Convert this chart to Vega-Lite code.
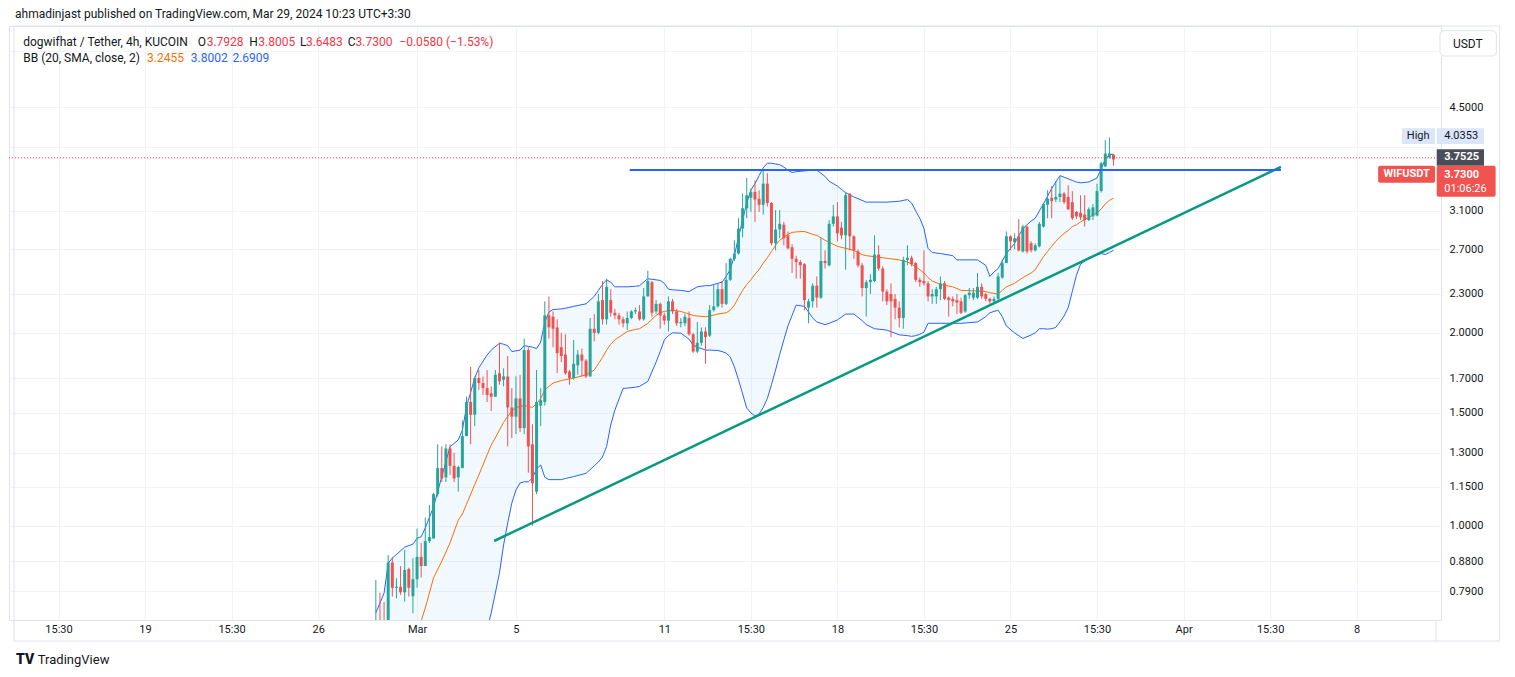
{
  "$schema": "https://vega.github.io/schema/vega-lite/v6.json",
  "width": 1432,
  "height": 594,
  "autosize": {"type": "none"},
  "padding": {"left": 9, "top": 26, "right": 74, "bottom": 57},
  "background": "#ffffff",
  "config": {
    "font": "Roboto",
    "view": {"stroke": "#e0e3eb"},
    "axis": {"labelFont": "Roboto", "labelFontSize": 11, "labelColor": "#131722", "gridColor": "#f0f3fa", "gridWidth": 1}
  },
  "data": {"values": [{}]},
  "datasets": {
    "candles": [
      {"i": -10, "o": 0.68, "h": 0.823, "l": 0.66, "c": 0.705},
      {"i": -9, "o": 0.70, "h": 0.786, "l": 0.67, "c": 0.69},
      {"i": -8, "o": 0.70, "h": 0.76, "l": 0.66, "c": 0.69},
      {"i": -7, "o": 0.69, "h": 0.90, "l": 0.68, "c": 0.876},
      {"i": -6, "o": 0.876, "h": 0.894, "l": 0.775, "c": 0.80},
      {"i": -5, "o": 0.80, "h": 0.828, "l": 0.77, "c": 0.803},
      {"i": -4, "o": 0.803, "h": 0.865, "l": 0.78, "c": 0.787},
      {"i": -3, "o": 0.787, "h": 0.917, "l": 0.761, "c": 0.853},
      {"i": -2, "o": 0.856, "h": 0.86, "l": 0.775, "c": 0.80},
      {"i": -1, "o": 0.776, "h": 0.89, "l": 0.73, "c": 0.825},
      {"i": 0, "o": 0.825, "h": 0.99, "l": 0.80, "c": 0.894},
      {"i": 1, "o": 0.894, "h": 0.94, "l": 0.83, "c": 0.865},
      {"i": 2, "o": 0.865, "h": 1.03, "l": 0.865, "c": 0.946},
      {"i": 3, "o": 0.946, "h": 1.077, "l": 0.94, "c": 0.96},
      {"i": 4, "o": 0.955, "h": 1.126, "l": 0.955, "c": 1.12},
      {"i": 5, "o": 1.12, "h": 1.34, "l": 1.11, "c": 1.23},
      {"i": 6, "o": 1.23, "h": 1.33, "l": 1.17, "c": 1.185},
      {"i": 7, "o": 1.19, "h": 1.34, "l": 1.17, "c": 1.32},
      {"i": 8, "o": 1.32, "h": 1.34, "l": 1.20, "c": 1.24},
      {"i": 9, "o": 1.24, "h": 1.30, "l": 1.17, "c": 1.185},
      {"i": 10, "o": 1.19, "h": 1.24, "l": 1.13, "c": 1.235},
      {"i": 11, "o": 1.23, "h": 1.46, "l": 1.23, "c": 1.38},
      {"i": 12, "o": 1.38, "h": 1.59, "l": 1.38, "c": 1.56},
      {"i": 13, "o": 1.56, "h": 1.77, "l": 1.34, "c": 1.49},
      {"i": 14, "o": 1.49, "h": 1.71, "l": 1.43, "c": 1.70},
      {"i": 15, "o": 1.70, "h": 1.75, "l": 1.63, "c": 1.67},
      {"i": 16, "o": 1.67, "h": 1.71, "l": 1.60, "c": 1.64},
      {"i": 17, "o": 1.64, "h": 1.75, "l": 1.56, "c": 1.60},
      {"i": 18, "o": 1.61, "h": 1.65, "l": 1.51, "c": 1.59},
      {"i": 19, "o": 1.59, "h": 1.75, "l": 1.59, "c": 1.72},
      {"i": 20, "o": 1.73, "h": 1.93, "l": 1.66, "c": 1.68},
      {"i": 21, "o": 1.69, "h": 1.76, "l": 1.65, "c": 1.71},
      {"i": 22, "o": 1.71, "h": 1.84, "l": 1.33, "c": 1.53},
      {"i": 23, "o": 1.53, "h": 1.64, "l": 1.37, "c": 1.48},
      {"i": 24, "o": 1.48, "h": 1.71, "l": 1.39, "c": 1.58},
      {"i": 25, "o": 1.58, "h": 1.72, "l": 1.40, "c": 1.42},
      {"i": 26, "o": 1.42, "h": 1.96, "l": 1.39, "c": 1.88},
      {"i": 27, "o": 1.88, "h": 1.90, "l": 1.21, "c": 1.33},
      {"i": 28, "o": 1.34, "h": 1.44, "l": 1.00, "c": 1.165},
      {"i": 29, "o": 1.13, "h": 1.75, "l": 1.12, "c": 1.56},
      {"i": 30, "o": 1.54, "h": 1.64, "l": 1.43, "c": 1.57},
      {"i": 31, "o": 1.56, "h": 2.24, "l": 1.54, "c": 2.13},
      {"i": 32, "o": 2.13, "h": 2.28, "l": 1.96, "c": 2.04},
      {"i": 33, "o": 2.12, "h": 2.16, "l": 1.90, "c": 2.03},
      {"i": 34, "o": 2.04, "h": 2.10, "l": 1.73, "c": 1.86},
      {"i": 35, "o": 1.90, "h": 2.0, "l": 1.80, "c": 1.84},
      {"i": 36, "o": 1.85, "h": 1.99, "l": 1.72, "c": 1.73},
      {"i": 37, "o": 1.74, "h": 1.75, "l": 1.66, "c": 1.70},
      {"i": 38, "o": 1.70, "h": 1.95, "l": 1.69, "c": 1.79},
      {"i": 39, "o": 1.78, "h": 1.88, "l": 1.72, "c": 1.85},
      {"i": 40, "o": 1.85, "h": 1.89, "l": 1.71, "c": 1.81},
      {"i": 41, "o": 1.81, "h": 1.82, "l": 1.70, "c": 1.71},
      {"i": 42, "o": 1.71, "h": 2.11, "l": 1.71, "c": 2.03},
      {"i": 43, "o": 2.03, "h": 2.14, "l": 1.94, "c": 2.0},
      {"i": 44, "o": 2.0, "h": 2.30, "l": 1.99, "c": 2.24},
      {"i": 45, "o": 2.25, "h": 2.41, "l": 2.06, "c": 2.10},
      {"i": 46, "o": 2.10, "h": 2.43, "l": 2.06, "c": 2.36},
      {"i": 47, "o": 2.25, "h": 2.34, "l": 2.12, "c": 2.15},
      {"i": 48, "o": 2.15, "h": 2.18, "l": 2.10, "c": 2.13},
      {"i": 49, "o": 2.13, "h": 2.15, "l": 2.06, "c": 2.10},
      {"i": 50, "o": 2.10, "h": 2.12, "l": 2.04, "c": 2.07},
      {"i": 51, "o": 2.07, "h": 2.16, "l": 2.02, "c": 2.11},
      {"i": 52, "o": 2.11, "h": 2.17, "l": 2.10, "c": 2.16},
      {"i": 53, "o": 2.16, "h": 2.19, "l": 2.14, "c": 2.17},
      {"i": 54, "o": 2.16, "h": 2.21, "l": 2.09, "c": 2.10},
      {"i": 55, "o": 2.10, "h": 2.35, "l": 2.09, "c": 2.28},
      {"i": 56, "o": 2.28, "h": 2.50, "l": 2.28, "c": 2.41},
      {"i": 57, "o": 2.40, "h": 2.41, "l": 2.12, "c": 2.15},
      {"i": 58, "o": 2.16, "h": 2.25, "l": 2.14, "c": 2.22},
      {"i": 59, "o": 2.22, "h": 2.23, "l": 2.03, "c": 2.13},
      {"i": 60, "o": 2.13, "h": 2.15, "l": 2.06, "c": 2.09},
      {"i": 61, "o": 2.09, "h": 2.28, "l": 2.01, "c": 2.24},
      {"i": 62, "o": 2.24, "h": 2.26, "l": 2.14, "c": 2.16},
      {"i": 63, "o": 2.16, "h": 2.18, "l": 2.05, "c": 2.07},
      {"i": 64, "o": 2.07, "h": 2.11, "l": 2.04, "c": 2.08},
      {"i": 65, "o": 2.07, "h": 2.14, "l": 2.05, "c": 2.12},
      {"i": 66, "o": 2.11, "h": 2.16, "l": 1.98, "c": 1.99},
      {"i": 67, "o": 1.99, "h": 2.0, "l": 1.86, "c": 1.87},
      {"i": 68, "o": 1.87, "h": 2.08, "l": 1.86, "c": 1.93},
      {"i": 69, "o": 1.93, "h": 2.04, "l": 1.91, "c": 2.01},
      {"i": 70, "o": 2.01, "h": 2.04, "l": 1.79, "c": 1.97},
      {"i": 71, "o": 1.98, "h": 2.21, "l": 1.97, "c": 2.17},
      {"i": 72, "o": 2.17, "h": 2.38, "l": 2.16, "c": 2.20},
      {"i": 73, "o": 2.20, "h": 2.39, "l": 2.19, "c": 2.34},
      {"i": 74, "o": 2.34, "h": 2.41, "l": 2.19, "c": 2.22},
      {"i": 75, "o": 2.22, "h": 2.57, "l": 2.21, "c": 2.42},
      {"i": 76, "o": 2.42, "h": 2.62, "l": 2.41, "c": 2.61},
      {"i": 77, "o": 2.61, "h": 2.79, "l": 2.59, "c": 2.66},
      {"i": 78, "o": 2.66, "h": 3.02, "l": 2.65, "c": 2.91},
      {"i": 79, "o": 2.91, "h": 3.30, "l": 2.82, "c": 3.13},
      {"i": 80, "o": 3.13, "h": 3.49, "l": 3.02, "c": 3.28},
      {"i": 81, "o": 3.25, "h": 3.36, "l": 3.09, "c": 3.32},
      {"i": 82, "o": 3.32, "h": 3.46, "l": 2.98, "c": 3.23},
      {"i": 83, "o": 3.24, "h": 3.34, "l": 3.09, "c": 3.17},
      {"i": 84, "o": 3.17, "h": 3.59, "l": 3.06, "c": 3.42},
      {"i": 85, "o": 3.42, "h": 3.55, "l": 3.15, "c": 3.19},
      {"i": 86, "o": 3.19, "h": 3.20, "l": 2.74, "c": 2.76},
      {"i": 87, "o": 2.76, "h": 3.11, "l": 2.69, "c": 2.90},
      {"i": 88, "o": 2.90, "h": 3.11, "l": 2.81, "c": 2.96},
      {"i": 89, "o": 2.95, "h": 2.98, "l": 2.74, "c": 2.81},
      {"i": 90, "o": 2.84, "h": 2.88, "l": 2.70, "c": 2.71},
      {"i": 91, "o": 2.72, "h": 2.75, "l": 2.48, "c": 2.61},
      {"i": 92, "o": 2.61, "h": 2.64, "l": 2.43, "c": 2.58},
      {"i": 93, "o": 2.58, "h": 2.60, "l": 2.43, "c": 2.55},
      {"i": 94, "o": 2.56, "h": 2.57, "l": 2.17, "c": 2.25},
      {"i": 95, "o": 2.19, "h": 2.26, "l": 2.07, "c": 2.24},
      {"i": 96, "o": 2.24, "h": 2.39, "l": 2.19, "c": 2.37},
      {"i": 97, "o": 2.37, "h": 2.45, "l": 2.19, "c": 2.27},
      {"i": 98, "o": 2.27, "h": 2.82, "l": 2.26, "c": 2.59},
      {"i": 99, "o": 2.59, "h": 2.69, "l": 2.52, "c": 2.57},
      {"i": 100, "o": 2.55, "h": 3.0, "l": 2.54, "c": 2.96},
      {"i": 101, "o": 2.96, "h": 3.17, "l": 2.93, "c": 3.04},
      {"i": 102, "o": 3.04, "h": 3.20, "l": 2.78, "c": 2.86},
      {"i": 103, "o": 2.92, "h": 2.98, "l": 2.80, "c": 2.84},
      {"i": 104, "o": 2.84, "h": 3.32, "l": 2.51, "c": 3.28},
      {"i": 105, "o": 3.30, "h": 3.30, "l": 2.69, "c": 2.83},
      {"i": 106, "o": 2.83, "h": 2.84, "l": 2.61, "c": 2.69},
      {"i": 107, "o": 2.68, "h": 2.70, "l": 2.53, "c": 2.55},
      {"i": 108, "o": 2.55, "h": 2.57, "l": 2.28, "c": 2.35},
      {"i": 109, "o": 2.35, "h": 2.42, "l": 2.12, "c": 2.40},
      {"i": 110, "o": 2.40, "h": 2.47, "l": 2.30, "c": 2.42},
      {"i": 111, "o": 2.41, "h": 2.84, "l": 2.40, "c": 2.65},
      {"i": 112, "o": 2.65, "h": 2.74, "l": 2.50, "c": 2.52},
      {"i": 113, "o": 2.52, "h": 2.54, "l": 2.24, "c": 2.32},
      {"i": 114, "o": 2.32, "h": 2.34, "l": 2.21, "c": 2.24},
      {"i": 115, "o": 2.30, "h": 2.39, "l": 1.97, "c": 2.24},
      {"i": 116, "o": 2.26, "h": 2.30, "l": 2.10, "c": 2.19},
      {"i": 117, "o": 2.19, "h": 2.24, "l": 2.04, "c": 2.11},
      {"i": 118, "o": 2.11, "h": 2.63, "l": 2.03, "c": 2.60},
      {"i": 119, "o": 2.60, "h": 2.74, "l": 2.55, "c": 2.62},
      {"i": 120, "o": 2.62, "h": 2.64, "l": 2.54, "c": 2.56},
      {"i": 121, "o": 2.57, "h": 2.58, "l": 2.40, "c": 2.42},
      {"i": 122, "o": 2.42, "h": 2.44, "l": 2.36, "c": 2.40},
      {"i": 123, "o": 2.41, "h": 2.69, "l": 2.37, "c": 2.39},
      {"i": 124, "o": 2.39, "h": 2.41, "l": 2.24, "c": 2.28},
      {"i": 125, "o": 2.28, "h": 2.34, "l": 2.22, "c": 2.30},
      {"i": 126, "o": 2.28, "h": 2.36, "l": 2.22, "c": 2.34},
      {"i": 127, "o": 2.34, "h": 2.45, "l": 2.25, "c": 2.39},
      {"i": 128, "o": 2.39, "h": 2.41, "l": 2.25, "c": 2.26},
      {"i": 129, "o": 2.27, "h": 2.28, "l": 2.12, "c": 2.25},
      {"i": 130, "o": 2.26, "h": 2.28, "l": 2.20, "c": 2.24},
      {"i": 131, "o": 2.25, "h": 2.30, "l": 2.14, "c": 2.23},
      {"i": 132, "o": 2.24, "h": 2.27, "l": 2.14, "c": 2.15},
      {"i": 133, "o": 2.16, "h": 2.30, "l": 2.15, "c": 2.29},
      {"i": 134, "o": 2.29, "h": 2.35, "l": 2.26, "c": 2.31},
      {"i": 135, "o": 2.27, "h": 2.35, "l": 2.25, "c": 2.31},
      {"i": 136, "o": 2.27, "h": 2.48, "l": 2.26, "c": 2.36},
      {"i": 137, "o": 2.36, "h": 2.39, "l": 2.26, "c": 2.28},
      {"i": 138, "o": 2.30, "h": 2.31, "l": 2.24, "c": 2.26},
      {"i": 139, "o": 2.26, "h": 2.27, "l": 2.22, "c": 2.24},
      {"i": 140, "o": 2.24, "h": 2.28, "l": 2.23, "c": 2.26},
      {"i": 141, "o": 2.26, "h": 2.48, "l": 2.25, "c": 2.45},
      {"i": 142, "o": 2.44, "h": 2.60, "l": 2.43, "c": 2.57},
      {"i": 143, "o": 2.57, "h": 2.88, "l": 2.57, "c": 2.83},
      {"i": 144, "o": 2.83, "h": 2.84, "l": 2.69, "c": 2.78},
      {"i": 145, "o": 2.77, "h": 2.86, "l": 2.70, "c": 2.81},
      {"i": 146, "o": 2.83, "h": 3.01, "l": 2.68, "c": 2.69},
      {"i": 147, "o": 2.68, "h": 2.95, "l": 2.67, "c": 2.93},
      {"i": 148, "o": 2.93, "h": 2.94, "l": 2.66, "c": 2.68},
      {"i": 149, "o": 2.76, "h": 2.78, "l": 2.67, "c": 2.69},
      {"i": 150, "o": 2.69, "h": 2.76, "l": 2.68, "c": 2.74},
      {"i": 151, "o": 2.73, "h": 2.98, "l": 2.72, "c": 2.96},
      {"i": 152, "o": 2.93, "h": 3.19, "l": 2.92, "c": 3.18},
      {"i": 153, "o": 3.17, "h": 3.34, "l": 3.02, "c": 3.24},
      {"i": 154, "o": 3.25, "h": 3.39, "l": 3.02, "c": 3.21},
      {"i": 155, "o": 3.23, "h": 3.45, "l": 3.20, "c": 3.26},
      {"i": 156, "o": 3.26, "h": 3.51, "l": 3.20, "c": 3.30},
      {"i": 157, "o": 3.30, "h": 3.32, "l": 3.18, "c": 3.20},
      {"i": 158, "o": 3.26, "h": 3.40, "l": 3.11, "c": 3.12},
      {"i": 159, "o": 3.20, "h": 3.33, "l": 3.00, "c": 3.02},
      {"i": 160, "o": 3.09, "h": 3.10, "l": 3.01, "c": 3.04},
      {"i": 161, "o": 3.08, "h": 3.28, "l": 3.0, "c": 3.03},
      {"i": 162, "o": 3.06, "h": 3.28, "l": 2.93, "c": 3.0},
      {"i": 163, "o": 3.0, "h": 3.14, "l": 2.99, "c": 3.12},
      {"i": 164, "o": 3.04, "h": 3.18, "l": 3.0, "c": 3.14},
      {"i": 165, "o": 3.05, "h": 3.42, "l": 3.04, "c": 3.33},
      {"i": 166, "o": 3.33, "h": 3.70, "l": 3.31, "c": 3.68},
      {"i": 167, "o": 3.64, "h": 4.0, "l": 3.63, "c": 3.81},
      {"i": 168, "o": 3.76, "h": 4.0353, "l": 3.74, "c": 3.81},
      {"i": 169, "o": 3.7928, "h": 3.8005, "l": 3.6483, "c": 3.73}
    ],
    "bb": [
      {"i": -10, "up": 0.731, "mid": 0.60, "lo": 0.50},
      {"i": -8, "up": 0.785, "mid": 0.61, "lo": 0.50},
      {"i": -7, "up": 0.874, "mid": 0.62, "lo": 0.50},
      {"i": -6, "up": 0.89, "mid": 0.63, "lo": 0.50},
      {"i": -3, "up": 0.926, "mid": 0.66, "lo": 0.51},
      {"i": -1, "up": 0.936, "mid": 0.68, "lo": 0.52},
      {"i": 0, "up": 0.956, "mid": 0.69, "lo": 0.52},
      {"i": 1, "up": 0.961, "mid": 0.71, "lo": 0.53},
      {"i": 2, "up": 0.992, "mid": 0.744, "lo": 0.54},
      {"i": 4, "up": 1.07, "mid": 0.829, "lo": 0.55},
      {"i": 6, "up": 1.193, "mid": 0.88, "lo": 0.56},
      {"i": 8, "up": 1.328, "mid": 0.94, "lo": 0.57},
      {"i": 10, "up": 1.361, "mid": 1.02, "lo": 0.58},
      {"i": 11, "up": 1.41, "mid": 1.043, "lo": 0.59},
      {"i": 12, "up": 1.534, "mid": 1.08, "lo": 0.60},
      {"i": 14, "up": 1.70, "mid": 1.16, "lo": 0.62},
      {"i": 15, "up": 1.764, "mid": 1.20, "lo": 0.64},
      {"i": 17, "up": 1.847, "mid": 1.29, "lo": 0.69},
      {"i": 18, "up": 1.88, "mid": 1.336, "lo": 0.731},
      {"i": 20, "up": 1.927, "mid": 1.41, "lo": 0.844},
      {"i": 21, "up": 1.92, "mid": 1.45, "lo": 0.933},
      {"i": 22, "up": 1.91, "mid": 1.48, "lo": 1.01},
      {"i": 23, "up": 1.87, "mid": 1.51, "lo": 1.085},
      {"i": 24, "up": 1.875, "mid": 1.53, "lo": 1.137},
      {"i": 25, "up": 1.88, "mid": 1.535, "lo": 1.166},
      {"i": 26, "up": 1.91, "mid": 1.54, "lo": 1.171},
      {"i": 27, "up": 1.905, "mid": 1.535, "lo": 1.171},
      {"i": 28, "up": 1.90, "mid": 1.53, "lo": 1.187},
      {"i": 29, "up": 1.89, "mid": 1.55, "lo": 1.226},
      {"i": 30, "up": 1.935, "mid": 1.58, "lo": 1.244},
      {"i": 31, "up": 2.08, "mid": 1.63, "lo": 1.19},
      {"i": 32, "up": 2.155, "mid": 1.65, "lo": 1.18},
      {"i": 33, "up": 2.175, "mid": 1.67, "lo": 1.18},
      {"i": 35, "up": 2.18, "mid": 1.685, "lo": 1.18},
      {"i": 36, "up": 2.185, "mid": 1.69, "lo": 1.185},
      {"i": 38, "up": 2.20, "mid": 1.70, "lo": 1.193},
      {"i": 41, "up": 2.22, "mid": 1.72, "lo": 1.207},
      {"i": 43, "up": 2.28, "mid": 1.75, "lo": 1.24},
      {"i": 44, "up": 2.33, "mid": 1.79, "lo": 1.257},
      {"i": 45, "up": 2.38, "mid": 1.83, "lo": 1.28},
      {"i": 46, "up": 2.42, "mid": 1.88, "lo": 1.33},
      {"i": 47, "up": 2.40, "mid": 1.92, "lo": 1.436},
      {"i": 48, "up": 2.36, "mid": 1.95, "lo": 1.515},
      {"i": 50, "up": 2.36, "mid": 1.99, "lo": 1.638},
      {"i": 51, "up": 2.36, "mid": 2.01, "lo": 1.64},
      {"i": 53, "up": 2.365, "mid": 2.025, "lo": 1.645},
      {"i": 54, "up": 2.37, "mid": 2.03, "lo": 1.65},
      {"i": 56, "up": 2.43, "mid": 2.07, "lo": 1.68},
      {"i": 58, "up": 2.42, "mid": 2.13, "lo": 1.80},
      {"i": 59, "up": 2.415, "mid": 2.15, "lo": 1.87},
      {"i": 60, "up": 2.39, "mid": 2.16, "lo": 1.95},
      {"i": 61, "up": 2.34, "mid": 2.165, "lo": 1.98},
      {"i": 62, "up": 2.335, "mid": 2.17, "lo": 2.0},
      {"i": 64, "up": 2.33, "mid": 2.16, "lo": 1.998},
      {"i": 66, "up": 2.32, "mid": 2.14, "lo": 1.955},
      {"i": 67, "up": 2.34, "mid": 2.13, "lo": 1.915},
      {"i": 68, "up": 2.36, "mid": 2.125, "lo": 1.90},
      {"i": 70, "up": 2.37, "mid": 2.12, "lo": 1.88},
      {"i": 71, "up": 2.37, "mid": 2.125, "lo": 1.88},
      {"i": 73, "up": 2.39, "mid": 2.14, "lo": 1.877},
      {"i": 74, "up": 2.40, "mid": 2.145, "lo": 1.87},
      {"i": 75, "up": 2.45, "mid": 2.15, "lo": 1.86},
      {"i": 76, "up": 2.51, "mid": 2.17, "lo": 1.834},
      {"i": 77, "up": 2.64, "mid": 2.21, "lo": 1.77},
      {"i": 78, "up": 2.82, "mid": 2.27, "lo": 1.69},
      {"i": 79, "up": 3.0, "mid": 2.33, "lo": 1.606},
      {"i": 80, "up": 3.19, "mid": 2.38, "lo": 1.526},
      {"i": 81, "up": 3.34, "mid": 2.42, "lo": 1.50},
      {"i": 82, "up": 3.42, "mid": 2.47, "lo": 1.483},
      {"i": 83, "up": 3.52, "mid": 2.51, "lo": 1.494},
      {"i": 84, "up": 3.62, "mid": 2.57, "lo": 1.53},
      {"i": 85, "up": 3.68, "mid": 2.62, "lo": 1.58},
      {"i": 86, "up": 3.68, "mid": 2.68, "lo": 1.66},
      {"i": 87, "up": 3.67, "mid": 2.74, "lo": 1.75},
      {"i": 88, "up": 3.66, "mid": 2.79, "lo": 1.85},
      {"i": 89, "up": 3.63, "mid": 2.82, "lo": 1.95},
      {"i": 90, "up": 3.59, "mid": 2.85, "lo": 2.05},
      {"i": 91, "up": 3.56, "mid": 2.87, "lo": 2.13},
      {"i": 92, "up": 3.57, "mid": 2.875, "lo": 2.21},
      {"i": 94, "up": 3.58, "mid": 2.88, "lo": 2.20},
      {"i": 96, "up": 3.59, "mid": 2.85, "lo": 2.11},
      {"i": 97, "up": 3.59, "mid": 2.84, "lo": 2.08},
      {"i": 99, "up": 3.51, "mid": 2.79, "lo": 2.06},
      {"i": 100, "up": 3.45, "mid": 2.77, "lo": 2.07},
      {"i": 102, "up": 3.39, "mid": 2.73, "lo": 2.095},
      {"i": 104, "up": 3.31, "mid": 2.71, "lo": 2.14},
      {"i": 106, "up": 3.26, "mid": 2.69, "lo": 2.14},
      {"i": 108, "up": 3.22, "mid": 2.65, "lo": 2.09},
      {"i": 109, "up": 3.20, "mid": 2.64, "lo": 2.06},
      {"i": 111, "up": 3.20, "mid": 2.63, "lo": 2.03},
      {"i": 114, "up": 3.20, "mid": 2.615, "lo": 2.02},
      {"i": 117, "up": 3.21, "mid": 2.60, "lo": 1.986},
      {"i": 119, "up": 3.23, "mid": 2.58, "lo": 1.98},
      {"i": 120, "up": 3.19, "mid": 2.56, "lo": 1.975},
      {"i": 121, "up": 3.10, "mid": 2.535, "lo": 1.98},
      {"i": 122, "up": 3.02, "mid": 2.51, "lo": 1.99},
      {"i": 123, "up": 2.91, "mid": 2.48, "lo": 2.005},
      {"i": 124, "up": 2.71, "mid": 2.44, "lo": 2.07},
      {"i": 125, "up": 2.67, "mid": 2.41, "lo": 2.07},
      {"i": 127, "up": 2.66, "mid": 2.38, "lo": 2.07},
      {"i": 130, "up": 2.64, "mid": 2.36, "lo": 2.07},
      {"i": 131, "up": 2.60, "mid": 2.345, "lo": 2.07},
      {"i": 132, "up": 2.60, "mid": 2.33, "lo": 2.07},
      {"i": 136, "up": 2.60, "mid": 2.325, "lo": 2.08},
      {"i": 138, "up": 2.55, "mid": 2.32, "lo": 2.12},
      {"i": 139, "up": 2.45, "mid": 2.31, "lo": 2.15},
      {"i": 140, "up": 2.49, "mid": 2.305, "lo": 2.16},
      {"i": 141, "up": 2.52, "mid": 2.30, "lo": 2.17},
      {"i": 142, "up": 2.59, "mid": 2.33, "lo": 2.12},
      {"i": 143, "up": 2.66, "mid": 2.36, "lo": 2.05},
      {"i": 145, "up": 2.76, "mid": 2.39, "lo": 2.0},
      {"i": 147, "up": 2.91, "mid": 2.44, "lo": 1.96},
      {"i": 149, "up": 2.99, "mid": 2.48, "lo": 1.985},
      {"i": 150, "up": 3.02, "mid": 2.51, "lo": 2.0},
      {"i": 151, "up": 3.10, "mid": 2.57, "lo": 2.03},
      {"i": 152, "up": 3.18, "mid": 2.63, "lo": 2.03},
      {"i": 153, "up": 3.27, "mid": 2.68, "lo": 2.027},
      {"i": 154, "up": 3.36, "mid": 2.73, "lo": 2.03},
      {"i": 155, "up": 3.44, "mid": 2.78, "lo": 2.04},
      {"i": 156, "up": 3.52, "mid": 2.82, "lo": 2.08},
      {"i": 157, "up": 3.50, "mid": 2.86, "lo": 2.125},
      {"i": 158, "up": 3.48, "mid": 2.89, "lo": 2.19},
      {"i": 159, "up": 3.46, "mid": 2.93, "lo": 2.32},
      {"i": 160, "up": 3.44, "mid": 2.95, "lo": 2.46},
      {"i": 161, "up": 3.43, "mid": 2.98, "lo": 2.56},
      {"i": 163, "up": 3.44, "mid": 3.03, "lo": 2.62},
      {"i": 165, "up": 3.49, "mid": 3.08, "lo": 2.65},
      {"i": 166, "up": 3.61, "mid": 3.12, "lo": 2.66},
      {"i": 167, "up": 3.73, "mid": 3.18, "lo": 2.65},
      {"i": 168, "up": 3.80, "mid": 3.22, "lo": 2.67},
      {"i": 169, "up": 3.8002, "mid": 3.2455, "lo": 2.6909}
    ]
  },
  "layer": [
    {
      "data": {"name": "bb"},
      "mark": {"type": "area", "clip": true, "color": "#2196f3", "opacity": 0.06},
      "encoding": {
        "x": {
          "field": "i",
          "type": "quantitative",
          "scale": {"domain": [-97.8, 247.25], "nice": false, "zero": false},
          "axis": {
            "orient": "bottom",
            "title": null,
            "values": [-87, -66, -45, -24, 0, 24, 60, 81, 102, 123, 144, 165, 186, 207, 228],
            "labelExpr": "datum.value == 0 ? 'Mar' : datum.value == 186 ? 'Apr' : datum.value == -66 ? '19' : datum.value == -24 ? '26' : datum.value == 24 ? '5' : datum.value == 60 ? '11' : datum.value == 102 ? '18' : datum.value == 144 ? '25' : datum.value == 228 ? '8' : '15:30'",
            "ticks": false,
            "domain": false,
            "grid": true,
            "labelPadding": 3,
            "labelOverlap": false,
            "labelFlush": false
          }
        },
        "y": {
          "field": "lo",
          "type": "quantitative",
          "scale": {"type": "log", "domain": [0.7125, 6.027], "nice": false, "zero": false},
          "axis": {
            "orient": "right",
            "title": null,
            "values": [0.79, 0.88, 1.0, 1.15, 1.3, 1.5, 1.7, 2.0, 2.3, 2.7, 3.1, 3.9, 4.5, 5.5],
            "labelExpr": "datum.value == 3.9 || datum.value == 5.5 ? '' : format(datum.value, '.4f')",
            "ticks": false,
            "domain": false,
            "grid": true,
            "labelPadding": 8,
            "labelAlign": "left",
            "labelOverlap": false,
            "labelFlush": false
          }
        },
        "y2": {"field": "up"}
      }
    },
    {
      "data": {"name": "bb"},
      "mark": {"type": "line", "clip": true, "color": "#2962ff", "strokeWidth": 1},
      "encoding": {"x": {"field": "i", "type": "quantitative"}, "y": {"field": "up", "type": "quantitative"}}
    },
    {
      "data": {"name": "bb"},
      "mark": {"type": "line", "clip": true, "color": "#2962ff", "strokeWidth": 1},
      "encoding": {"x": {"field": "i", "type": "quantitative"}, "y": {"field": "lo", "type": "quantitative"}}
    },
    {
      "data": {"name": "bb"},
      "mark": {"type": "line", "clip": true, "color": "#ff6d00", "strokeWidth": 1},
      "encoding": {"x": {"field": "i", "type": "quantitative"}, "y": {"field": "mid", "type": "quantitative"}}
    },
    {
      "data": {"name": "candles"},
      "mark": {"type": "rule", "clip": true, "strokeWidth": 1},
      "encoding": {
        "x": {"field": "i", "type": "quantitative"},
        "y": {"field": "l", "type": "quantitative"},
        "y2": {"field": "h"},
        "color": {"condition": {"test": "datum.c >= datum.o", "value": "#26a69a"}, "value": "#ef5350"}
      }
    },
    {
      "data": {"name": "candles"},
      "mark": {"type": "bar", "clip": true, "width": 3},
      "encoding": {
        "x": {"field": "i", "type": "quantitative"},
        "y": {"field": "o", "type": "quantitative"},
        "y2": {"field": "c"},
        "color": {"condition": {"test": "datum.c >= datum.o", "value": "#26a69a"}, "value": "#ef5350"}
      }
    },
    {
      "mark": {"type": "rule", "color": "#089981", "strokeWidth": 2.5},
      "encoding": {"x": {"datum": 18.71}, "y": {"datum": 0.9465}, "x2": {"datum": 209.63}, "y2": {"datum": 3.631}}
    },
    {
      "mark": {"type": "rule", "color": "#2962ff", "strokeWidth": 2},
      "encoding": {"x": {"datum": 51.63}, "x2": {"datum": 209.63}, "y": {"datum": 3.592}}
    },
    {
      "mark": {"type": "rule", "color": "#f23645", "strokeWidth": 1, "strokeDash": [1, 2]},
      "encoding": {"y": {"datum": 3.7525}}
    },
    {
      "mark": {"type": "text", "align": "left", "baseline": "middle", "fontSize": 12, "color": "#131722"},
      "encoding": {"x": {"datum": -97.56}, "y": {"datum": 6.29}, "text": {"value": "ahmadinjast published on TradingView.com, Mar 29, 2024 10:23 UTC+3:30"}}
    },
    {
      "mark": {"type": "text", "align": "left", "baseline": "middle", "fontSize": 12, "color": "#131722"},
      "encoding": {"x": {"datum": -95.56}, "y": {"datum": 5.69}, "text": {"value": "dogwifhat / Tether, 4h, KUCOIN"}}
    },
    {
      "mark": {"type": "text", "align": "left", "baseline": "middle", "fontSize": 12, "color": "#131722"},
      "encoding": {"x": {"datum": -53.22}, "y": {"datum": 5.69}, "text": {"value": "O"}}
    },
    {
      "mark": {"type": "text", "align": "left", "baseline": "middle", "fontSize": 12, "color": "#f23645"},
      "encoding": {"x": {"datum": -51.05}, "y": {"datum": 5.69}, "text": {"value": "3.7928"}}
    },
    {
      "mark": {"type": "text", "align": "left", "baseline": "middle", "fontSize": 12, "color": "#131722"},
      "encoding": {"x": {"datum": -40.69}, "y": {"datum": 5.69}, "text": {"value": "H"}}
    },
    {
      "mark": {"type": "text", "align": "left", "baseline": "middle", "fontSize": 12, "color": "#f23645"},
      "encoding": {"x": {"datum": -38.52}, "y": {"datum": 5.69}, "text": {"value": "3.8005"}}
    },
    {
      "mark": {"type": "text", "align": "left", "baseline": "middle", "fontSize": 12, "color": "#131722"},
      "encoding": {"x": {"datum": -28.4}, "y": {"datum": 5.69}, "text": {"value": "L"}}
    },
    {
      "mark": {"type": "text", "align": "left", "baseline": "middle", "fontSize": 12, "color": "#f23645"},
      "encoding": {"x": {"datum": -26.96}, "y": {"datum": 5.69}, "text": {"value": "3.6483"}}
    },
    {
      "mark": {"type": "text", "align": "left", "baseline": "middle", "fontSize": 12, "color": "#131722"},
      "encoding": {"x": {"datum": -16.84}, "y": {"datum": 5.69}, "text": {"value": "C"}}
    },
    {
      "mark": {"type": "text", "align": "left", "baseline": "middle", "fontSize": 12, "color": "#f23645"},
      "encoding": {"x": {"datum": -14.91}, "y": {"datum": 5.69}, "text": {"value": "3.7300"}}
    },
    {
      "mark": {"type": "text", "align": "left", "baseline": "middle", "fontSize": 12, "color": "#f23645"},
      "encoding": {"x": {"datum": -4.31}, "y": {"datum": 5.69}, "text": {"value": "−0.0580 (−1.53%)"}}
    },
    {
      "mark": {"type": "text", "align": "left", "baseline": "middle", "fontSize": 12, "color": "#131722"},
      "encoding": {"x": {"datum": -95.56}, "y": {"datum": 5.363}, "text": {"value": "BB (20, SMA, close, 2)"}}
    },
    {
      "mark": {"type": "text", "align": "left", "baseline": "middle", "fontSize": 12, "color": "#ff6d00"},
      "encoding": {"x": {"datum": -65.51}, "y": {"datum": 5.363}, "text": {"value": "3.2455"}}
    },
    {
      "mark": {"type": "text", "align": "left", "baseline": "middle", "fontSize": 12, "color": "#2962ff"},
      "encoding": {"x": {"datum": -54.91}, "y": {"datum": 5.363}, "text": {"value": "3.8002"}}
    },
    {
      "mark": {"type": "text", "align": "left", "baseline": "middle", "fontSize": 12, "color": "#2962ff"},
      "encoding": {"x": {"datum": -44.79}, "y": {"datum": 5.363}, "text": {"value": "2.6909"}}
    },
    {
      "mark": {"type": "rect", "fill": "#ffffff", "stroke": "#e0e3eb", "strokeWidth": 1, "cornerRadius": 4},
      "encoding": {"x": {"datum": 248.22}, "x2": {"datum": 261.89}, "y": {"datum": 5.925}, "y2": {"datum": 5.41}}
    },
    {
      "mark": {"type": "text", "align": "center", "baseline": "middle", "fontSize": 12, "color": "#131722"},
      "encoding": {"x": {"datum": 254.97}, "y": {"datum": 5.649}, "text": {"value": "USDT"}}
    },
    {
      "mark": {"type": "rect", "fill": "#dbe6fb"},
      "encoding": {"x": {"datum": 239.0}, "x2": {"datum": 247.02}, "y": {"datum": 4.172}, "y2": {"datum": 3.943}}
    },
    {
      "mark": {"type": "rect", "fill": "#dbe6fb"},
      "encoding": {"x": {"datum": 247.43}, "x2": {"datum": 258.9}, "y": {"datum": 4.172}, "y2": {"datum": 3.943}}
    },
    {
      "mark": {"type": "text", "align": "center", "baseline": "middle", "fontSize": 11, "color": "#131722"},
      "encoding": {"x": {"datum": 242.92}, "y": {"datum": 4.058}, "text": {"value": "High"}}
    },
    {
      "mark": {"type": "text", "align": "left", "baseline": "middle", "fontSize": 11, "color": "#131722"},
      "encoding": {"x": {"datum": 249.26}, "y": {"datum": 4.058}, "text": {"value": "4.0353"}}
    },
    {
      "mark": {"type": "rect", "fill": "#4a4e59"},
      "encoding": {"x": {"datum": 247.43}, "x2": {"datum": 258.9}, "y": {"datum": 3.869}, "y2": {"datum": 3.647}}
    },
    {
      "mark": {"type": "text", "align": "left", "baseline": "middle", "fontSize": 11, "fontWeight": "bold", "color": "#ffffff"},
      "encoding": {"x": {"datum": 249.26}, "y": {"datum": 3.757}, "text": {"value": "3.7525"}}
    },
    {
      "mark": {"type": "rect", "fill": "#f05350", "cornerRadius": 2},
      "encoding": {"x": {"datum": 233.21}, "x2": {"datum": 247.02}, "y": {"datum": 3.647}, "y2": {"datum": 3.431}}
    },
    {
      "mark": {"type": "text", "align": "center", "baseline": "middle", "fontSize": 11, "fontWeight": "bold", "color": "#ffffff"},
      "encoding": {"x": {"datum": 240.13}, "y": {"datum": 3.538}, "text": {"value": "WIFUSDT"}}
    },
    {
      "mark": {"type": "rect", "fill": "#f05350", "cornerRadius": 2},
      "encoding": {"x": {"datum": 247.43}, "x2": {"datum": 261.72}, "y": {"datum": 3.647}, "y2": {"datum": 3.263}}
    },
    {
      "mark": {"type": "text", "align": "left", "baseline": "middle", "fontSize": 11, "fontWeight": "bold", "color": "#ffffff"},
      "encoding": {"x": {"datum": 249.26}, "y": {"datum": 3.534}, "text": {"value": "3.7300"}}
    },
    {
      "mark": {"type": "text", "align": "left", "baseline": "middle", "fontSize": 11, "color": "#ffffff"},
      "encoding": {"x": {"datum": 249.26}, "y": {"datum": 3.354}, "text": {"value": "01:06:26"}}
    },
    {
      "mark": {"type": "rect", "fill": "transparent", "stroke": "#e0e3eb", "strokeWidth": 1},
      "encoding": {"x": {"datum": -97.8}, "x2": {"datum": 262.68}, "y": {"datum": 6.027}, "y2": {"datum": 0.6607}}
    },
    {
      "mark": {"type": "rule", "color": "#e0e3eb", "strokeWidth": 1},
      "encoding": {"x": {"datum": 247.25}, "y": {"datum": 0.7125}, "y2": {"datum": 0.6607}}
    },
    {
      "mark": {"type": "text", "align": "left", "baseline": "middle", "fontSize": 14, "fontWeight": 900, "color": "#131722"},
      "encoding": {"x": {"datum": -97.32}, "y": {"datum": 0.617}, "text": {"value": "TV"}}
    },
    {
      "mark": {"type": "text", "align": "left", "baseline": "middle", "fontSize": 13, "color": "#131722"},
      "encoding": {"x": {"datum": -92.02}, "y": {"datum": 0.617}, "text": {"value": "TradingView"}}
    }
  ]
}
